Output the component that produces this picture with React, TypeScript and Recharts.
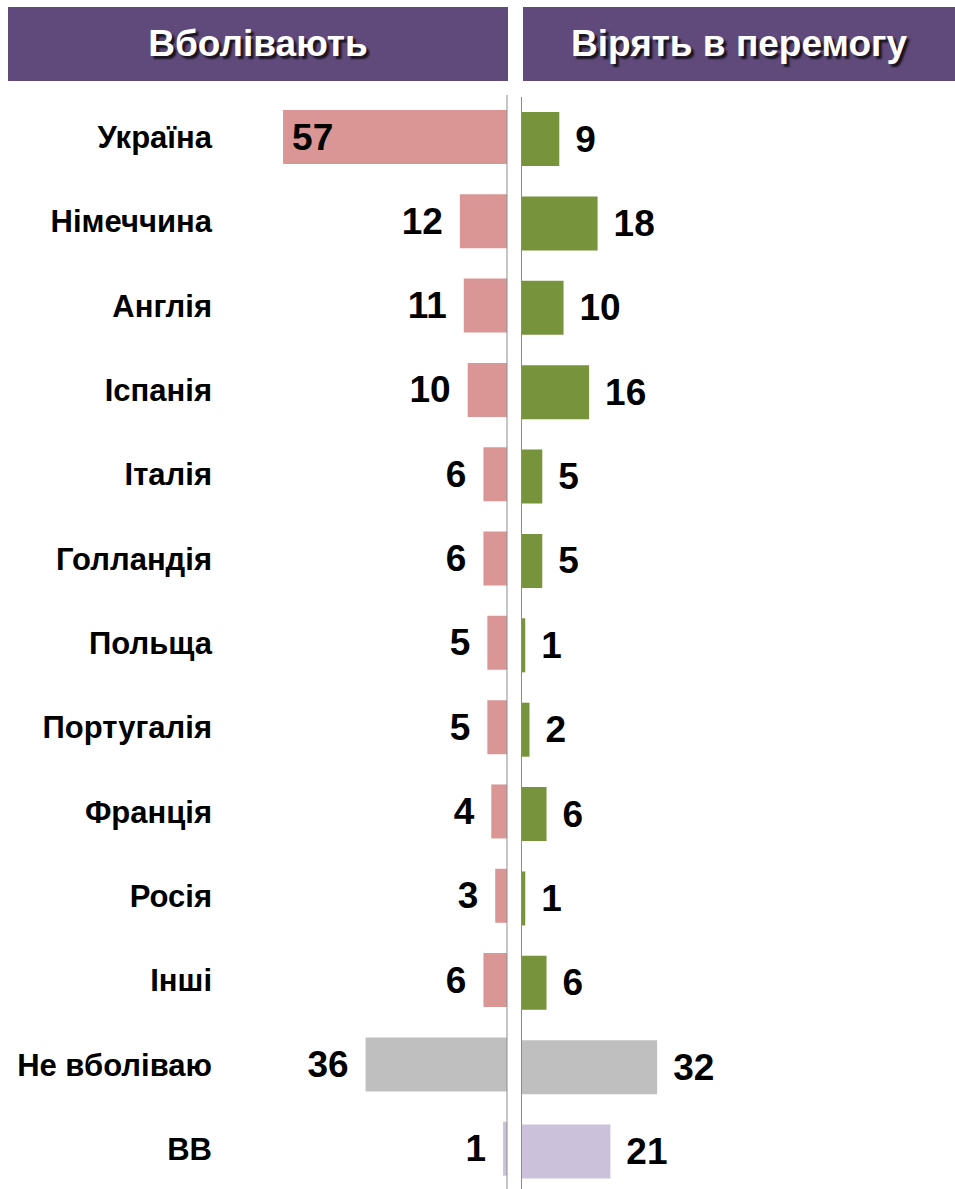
import React from 'react'
import { BarChart, Bar, XAxis, YAxis, Cell, LabelList, ReferenceLine } from 'recharts'

const categories = ['Україна', 'Німеччина', 'Англія', 'Іспанія', 'Італія', 'Голландія', 'Польща', 'Португалія', 'Франція', 'Росія', 'Інші', 'Не вболіваю', 'ВВ']
const supportValues = [57, 12, 11, 10, 6, 6, 5, 5, 4, 3, 6, 36, 1]
const believeValues = [9, 18, 10, 16, 5, 5, 1, 2, 6, 1, 6, 32, 21]
const headers = ['Вболівають', 'Вірять в перемогу']

const FONT = '"Liberation Sans", Arial, sans-serif'
const HEADER_BG = '#604a7b'
const PINK = '#d99694'
const GREEN = '#77933c'
const GRAY = '#bfbfbf'
const LILAC = '#ccc1da'
const AXIS_GRAY = '#8c8c8c'

const data = categories.map((name, i) => ({
  name,
  support: supportValues[i],
  believe: believeValues[i],
}))

const leftColor = (i: number) => (i === 11 ? GRAY : i === 12 ? LILAC : PINK)
const rightColor = (i: number) => (i === 11 ? GRAY : i === 12 ? LILAC : GREEN)

const LeftLabel = (props: any) => {
  const { x, y, width, height, value } = props
  const left = Math.min(x, x + width)
  const w = Math.abs(width)
  const cy = y + height / 2
  const inside = w > 180
  return (
    <text
      x={inside ? left + 9 : left - 17}
      y={cy}
      textAnchor={inside ? 'start' : 'end'}
      dominantBaseline="central"
      fontFamily={FONT}
      fontWeight="bold"
      fontSize={37}
      fill="#000"
    >
      {value}
    </text>
  )
}

const RightLabel = (props: any) => {
  const { x, y, width, height, value } = props
  const right = Math.max(x, x + width)
  const cy = y + height / 2
  return (
    <text
      x={right + 16}
      y={cy}
      textAnchor="start"
      dominantBaseline="central"
      fontFamily={FONT}
      fontWeight="bold"
      fontSize={37}
      fill="#000"
    >
      {value}
    </text>
  )
}

const headerStyle = (left: number, width: number): React.CSSProperties => ({
  position: 'absolute',
  left,
  top: 7,
  width,
  height: 74,
  background: HEADER_BG,
  color: '#fff',
  fontFamily: FONT,
  fontWeight: 'bold',
  fontSize: 37,
  display: 'flex',
  alignItems: 'center',
  justifyContent: 'center',
  textShadow: '3px 3px 2px rgba(0,0,0,0.75)',
})

export default function App() {
  return (
    <div style={{ position: 'absolute', left: 0, top: 0, width: 955, height: 1189, overflow: 'hidden', background: '#fff' }}>
      <div style={headerStyle(8, 500)}>{headers[0]}</div>
      <div style={headerStyle(523, 432)}>{headers[1]}</div>

      <div style={{ position: 'absolute', left: 0, top: 95 }}>
        <BarChart width={508} height={1096} data={data} layout="vertical" margin={{ top: 0, right: 1, bottom: 0, left: 0 }}>
          <XAxis type="number" domain={[0, 70]} reversed hide />
          <YAxis
            type="category"
            dataKey="name"
            width={232}
            axisLine={false}
            tickLine={false}
            tickSize={0}
            tickMargin={20}
            interval={0}
            tick={{ fill: '#000', fontFamily: FONT, fontWeight: 'bold', fontSize: 31 }}
          />
          <Bar dataKey="support" barSize={54} isAnimationActive={false}>
            {data.map((_, i) => (
              <Cell key={i} fill={leftColor(i)} />
            ))}
            <LabelList dataKey="support" content={LeftLabel} />
          </Bar>
          <ReferenceLine x={0} stroke={AXIS_GRAY} strokeWidth={1} />
        </BarChart>
      </div>

      <div style={{ position: 'absolute', left: 521, top: 97 }}>
        <BarChart width={434} height={1097} data={data} layout="vertical" margin={{ top: 0, right: 0, bottom: 0, left: 0 }}>
          <XAxis type="number" domain={[0, 102]} hide />
          <YAxis type="category" dataKey="name" hide />
          <Bar dataKey="believe" barSize={54} isAnimationActive={false}>
            {data.map((_, i) => (
              <Cell key={i} fill={rightColor(i)} />
            ))}
            <LabelList dataKey="believe" content={RightLabel} />
          </Bar>
          <ReferenceLine x={0} stroke={AXIS_GRAY} strokeWidth={2} />
        </BarChart>
      </div>
    </div>
  )
}
